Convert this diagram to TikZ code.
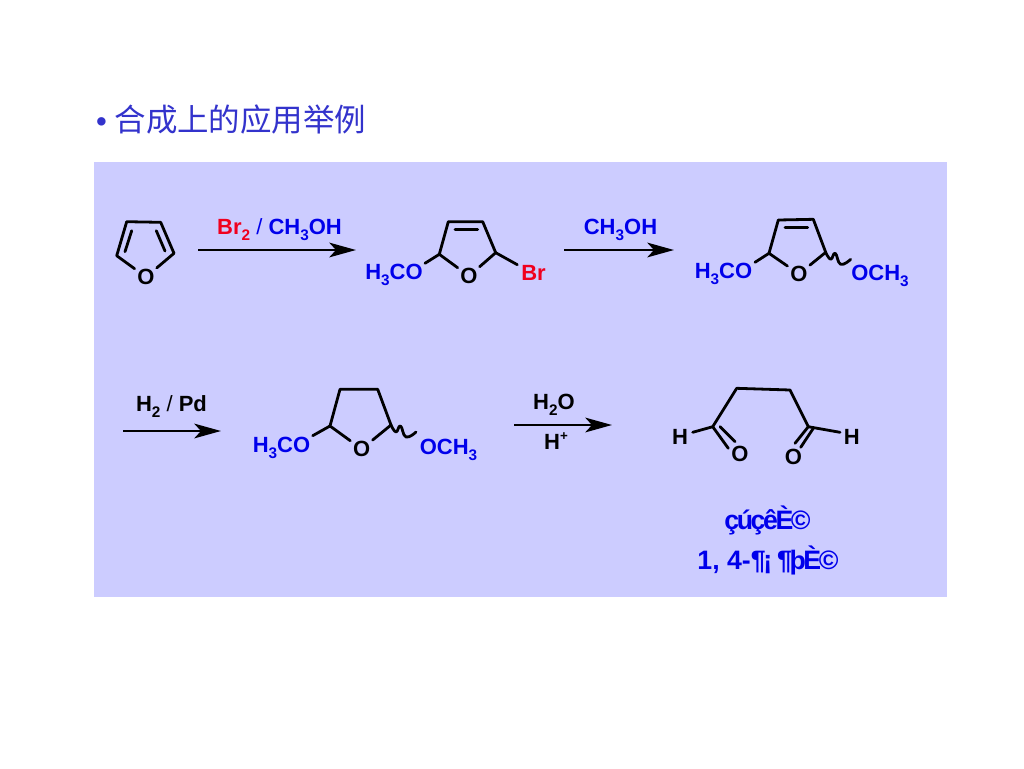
\documentclass[tikz,border=0pt]{standalone}
\usepackage{fontspec}
\setmainfont{Liberation Sans}
\newfontfamily\cjk{Noto Sans CJK SC}
\newfontfamily\squeezed[LetterSpace=-9]{Liberation Sans}
\usetikzlibrary{arrows.meta}
\definecolor{panelblue}{RGB}{204,204,255}
\definecolor{labelblue}{RGB}{0,0,235}
\definecolor{labelred}{RGB}{240,0,30}
\definecolor{titleblue}{RGB}{51,51,204}
\newcommand{\dn}[1]{\raisebox{-0.28em}{\fontsize{11.5}{11.5}\selectfont #1}}
\newcommand{\up}[1]{\raisebox{0.42em}{\fontsize{10}{10}\selectfont #1}}
\newcommand{\wavybond}[1]{\draw[bond,shift={(#1)}] plot[smooth,tension=0.8] coordinates {(0,0) (5,7) (9.5,1) (15,12) (25,7)};}
\tikzset{
	bond/.style={line width=2.1pt, line cap=round, line join=round, black},
	rxnarrow/.style={line width=2pt, black, -{Stealth[length=20pt,width=11pt,inset=5pt]}},
	atom/.style={font=\fontsize{16.5}{18}\selectfont\bfseries, text=black, circle, inner sep=1.2pt},
	blue label/.style={font=\fontsize{16.5}{18}\selectfont\bfseries, text=labelblue, inner sep=0pt},
	black label/.style={font=\fontsize{16.5}{18}\selectfont\bfseries, text=black, inner sep=0pt},
	red label/.style={font=\fontsize{16.5}{18}\selectfont\bfseries, text=labelred, inner sep=0pt},
	name label/.style={font=\fontsize{20}{22}\selectfont\bfseries, text=labelblue, inner sep=0pt}
}
\begin{document}
\begin{tikzpicture}[x=0.75pt,y=-0.75pt]
	\useasboundingbox (0,0) rectangle (1024,768);
	%%%%% panel and title %%%%%
	\fill[panelblue] (94,162) rectangle (947,597);
	\node[anchor=west, inner sep=0pt, text=titleblue, font=\fontsize{23.6}{26}\selectfont] (title) at (96,119.5) {\bfseries\fontsize{22}{24}\selectfont •\hspace{6pt}\mdseries\fontsize{23.6}{26}\selectfont{\cjk 合成上的应用举例}};
	
	%%%%% furan %%%%%
	\node[atom] (o1) at (146,277) {O};
	\coordinate (a1) at (116.7,255.7);
	\coordinate (a2) at (126.7,221.7);
	\coordinate (a3) at (160.7,222.3);
	\coordinate (a4) at (174,253.3);
	\coordinate (a5) at (131.7,230.7);
	\coordinate (a6) at (125,251.7);
	\coordinate (a7) at (156.3,230.7);
	\coordinate (a8) at (165,251);
	\draw[bond] (o1) -- (a1) -- (a2) -- (a3) -- (a4) -- (o1);
	\draw[bond] (a5) -- (a6);
	\draw[bond] (a7) -- (a8);
	
	\coordinate (r1s) at (198,250);
	\coordinate (r1e) at (356,250);
	\draw[rxnarrow] (r1s) -- (r1e);
	\node[blue label] (r1top) at (279.5,230) {\textcolor{labelred}{Br\dn{2}} {\mdseries /} CH\dn{3}OH};
	
	%%%%% bromo ether %%%%%
	\node[atom] (o2) at (469,276) {O};
	\node[blue label] (m2l) at (394,275) {H\dn{3}CO};
	\node[red label] (m2r) at (533.5,272.5) {Br};
	\coordinate (b1) at (439.3,254.3);
	\coordinate (b2) at (448.3,221.7);
	\coordinate (b3) at (482.7,221.7);
	\coordinate (b4) at (495.7,252.7);
	\coordinate (b5) at (455,229.3);
	\coordinate (b6) at (477.7,229.3);
	\coordinate (b7) at (425,263.3);
	\coordinate (b8) at (517.3,264.7);
	\draw[bond] (o2) -- (b1) -- (b2) -- (b3) -- (b4) -- (o2);
	\draw[bond] (b5) -- (b6);
	\draw[bond] (b7) -- (b1);
	\draw[bond] (b4) -- (b8);
	
	\coordinate (r2s) at (564,250);
	\coordinate (r2e) at (674,250);
	\draw[rxnarrow] (r2s) -- (r2e);
	\node[blue label] (r2top) at (620.5,230) {CH\dn{3}OH};
	
	%%%%% dimethoxy dihydrofuran %%%%%
	\node[atom] (o3) at (799,274) {O};
	\node[blue label] (m3l) at (723.5,273.5) {H\dn{3}CO};
	\node[blue label] (m3r) at (880,275.5) {OCH\dn{3}};
	\coordinate (c1) at (769,253.3);
	\coordinate (c2) at (778.3,220);
	\coordinate (c3) at (813.3,219.3);
	\coordinate (c4) at (825.7,252.3);
	\coordinate (c5) at (785,227.3);
	\coordinate (c6) at (807.7,227.3);
	\coordinate (c7) at (755,262.3);
	\draw[bond] (o3) -- (c1) -- (c2) -- (c3) -- (c4) -- (o3);
	\draw[bond] (c5) -- (c6);
	\draw[bond] (c7) -- (c1);
	\wavybond{c4}
	
	%%%%% second row %%%%%
	\coordinate (r3s) at (123,431);
	\coordinate (r3e) at (221,431);
	\draw[rxnarrow] (r3s) -- (r3e);
	\node[black label] (r3top) at (171.5,406.5) {H\dn{2} {\mdseries /} Pd};
	
	\node[atom] (o4) at (361.7,449) {O};
	\node[blue label] (m4l) at (281.5,447.5) {H\dn{3}CO};
	\node[blue label] (m4r) at (448.5,449.5) {OCH\dn{3}};
	\coordinate (d1) at (330,426);
	\coordinate (d2) at (340,389.3);
	\coordinate (d3) at (377.7,389.3);
	\coordinate (d4) at (391,425);
	\coordinate (d5) at (312.7,435.7);
	\draw[bond] (o4) -- (d1) -- (d2) -- (d3) -- (d4) -- (o4);
	\draw[bond] (d5) -- (d1);
	\wavybond{d4}
	
	\coordinate (r4s) at (514,425);
	\coordinate (r4e) at (612,425);
	\draw[rxnarrow] (r4s) -- (r4e);
	\node[black label] (r4top) at (554,405) {H\dn{2}O};
	\node[black label] (r4bot) at (556,441) {H\up{+}};
	
	%%%%% succinaldehyde %%%%%
	\node[black label] (h1) at (680,437) {H};
	\node[black label] (h2) at (851.7,437) {H};
	\node[atom] (o5) at (740,454) {O};
	\node[atom] (o6) at (793.3,456.5) {O};
	\coordinate (e1) at (712.7,426.7);
	\coordinate (e2) at (736.7,388.3);
	\coordinate (e3) at (790,390);
	\coordinate (e4) at (808.3,426.7);
	\coordinate (e5) at (692.7,432.3);
	\coordinate (e6) at (840,432.3);
	\coordinate (e7) at (728.3,448.3);
	\coordinate (e8) at (720,426.7);
	\coordinate (e9) at (735,441.7);
	\coordinate (e10) at (795,443.3);
	\coordinate (e11) at (813.3,428.3);
	\coordinate (e12) at (800.7,447.3);
	\draw[bond] (e5) -- (e1) -- (e2) -- (e3) -- (e4) -- (e6);
	\draw[bond] (e1) -- (e7);
	\draw[bond] (e8) -- (e9);
	\draw[bond] (e4) -- (e10);
	\draw[bond] (e11) -- (e12);
	
	\node[name label] (name1) at (767.5,520) {\squeezed çúçêÈ©};
	\node[name label] (name2) at (768,560) {1, 4-{\squeezed ¶¡ ¶þÈ©}};
\end{tikzpicture}
\end{document}
